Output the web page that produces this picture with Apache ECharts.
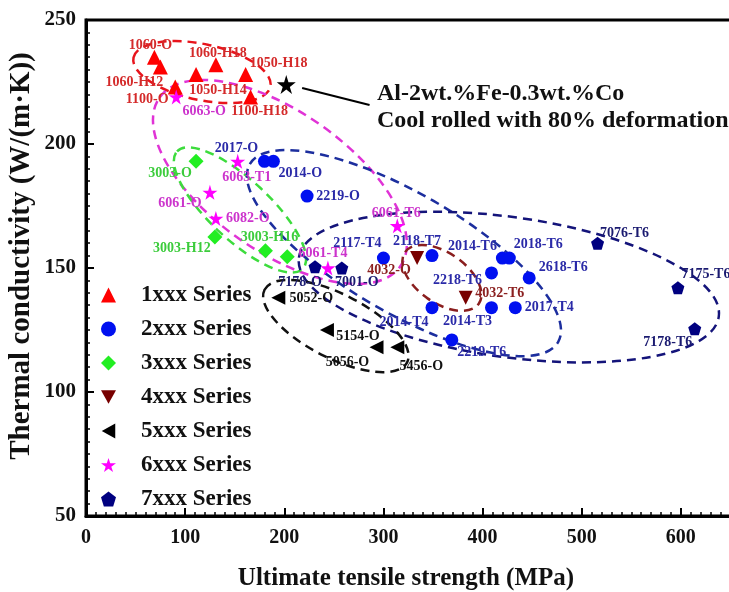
<!DOCTYPE html>
<html lang="en">
<head>
<meta charset="UTF-8">
<title>Thermal conductivity vs UTS</title>
<script src="https://cdn.jsdelivr.net/npm/echarts@6/dist/echarts.min.js"></script>
<style>
  html, body { margin: 0; padding: 0; background: #fff; }
  #chart { width: 729px; height: 592px; }
</style>
</head>
<body>
<div id="chart"></div>
<script>
// ---- data (UTS in MPa, thermal conductivity in W/(m·K)) ----
const names1 = ['1060-O', '1060-H12', '1050-H14', '1060-H18', '1050-H18', '1100-O', '1100-H18'];
const uts1 = [69, 75, 111, 131, 161, 90, 166];
const tc1 = [235, 231, 228, 232, 228, 223, 219];

const names2 = ['2017-O', '2014-O', '2219-O', '2117-T4', '2118-T7', '2014-T6', '2018-T6', '2218-T6', '2618-T6', '2014-T4', '2014-T3', '2017-T4', '2219-T6'];
const uts2 = [180, 189, 223, 300, 349, 420, 427, 409, 447, 349, 409, 433, 369];
const tc2 = [193, 193, 179, 154, 155, 154, 154, 148, 146, 134, 134, 134, 121];

const names3 = ['3003-O', '3003-H12', '3003-H16', ''];
const uts3 = [111, 130, 181, 203];
const tc3 = [193, 162.5, 157, 154.5];

const names4 = ['4032-O', '4032-T6'];
const uts4 = [334, 383];
const tc4 = [154, 138];

const names5 = ['5052-O', '5154-O', '5056-O', '5456-O'];
const uts5 = [194, 243, 293, 314];
const tc5 = [138, 125, 118, 118];

const names6 = ['6063-O', '6063-T1', '6061-O', '6082-O', '6061-T4', '6061-T6'];
const uts6 = [91, 153, 125, 131, 244, 314];
const tc6 = [219, 193, 180.5, 170, 150, 167];

const names7 = ['7178-O', '7001-O', '7076-T6', '7175-T6', '7178-T6'];
const uts7 = [231, 258, 516, 597, 614];
const tc7 = [150.5, 150, 160, 142, 125.5];

const alloyName = ['Al-2wt.%Fe-0.3wt.%Co'];
const alloyUts = [202];
const alloyTc = [224];

const seriesNames = ['1xxx Series', '2xxx Series', '3xxx Series', '4xxx Series', '5xxx Series', '6xxx Series', '7xxx Series'];
const xTicks = [0, 100, 200, 300, 400, 500, 600, 700];
const yTicks = [50, 100, 150, 200, 250];

// label offsets (px) for each point label
const labelOffsets = {
  '1060-O': [-4, -12], '1060-H12': [-26, 15], '1050-H14': [22, 16], '1060-H18': [2, -11],
  '1050-H18': [33, -11], '1100-O': [-28, 12], '1100-H18': [9, 15],
  '2017-O': [-28, -13], '2014-O': [27, 12], '2219-O': [31, 0], '2117-T4': [-26, -15],
  '2118-T7': [-15, -14], '2014-T6': [-30, -12], '2018-T6': [29, -14], '2218-T6': [-34, 7],
  '2618-T6': [34, -11], '2014-T4': [-28, 15], '2014-T3': [-24, 14], '2017-T4': [34, 0],
  '2219-T6': [30, 12],
  '3003-O': [-26, 12], '3003-H12': [-33, 11], '3003-H16': [4, -13],
  '4032-O': [-28, 12], '4032-T6': [34, -4],
  '5052-O': [33, 1], '5154-O': [31, 6], '5056-O': [-29, 15], '5456-O': [24, 19],
  '6063-O': [28, 15], '6063-T1': [9, 16], '6061-O': [-30, 11], '6082-O': [32, 0],
  '6061-T4': [-5, -15], '6061-T6': [-1, -12],
  '7178-O': [-15, 16], '7001-O': [15, 14], '7076-T6': [27, -10], '7175-T6': [28, -13],
  '7178-T6': [-27, 14]
};

const serif = "'Liberation Serif', 'Times New Roman', serif";
const starPath = 'path://M50,0 L61,35 L98,35 L68,57 L79,91 L50,70 L21,91 L32,57 L2,35 L39,35 Z';
const pentPath = 'path://M50,0 L98,36 L80,95 L20,95 L2,36 Z';
const downPath = 'path://M0,0 L100,0 L50,90 Z';
const leftPath = 'path://M90,0 L90,100 L0,50 Z';

function makeSeries(name, names, xs, ys, symbol, size, color, labelColor) {
  return {
    name: name,
    type: 'scatter',
    symbol: symbol,
    symbolSize: size,
    itemStyle: { color: color, opacity: 1 },
    label: {
      show: true,
      position: 'inside',
      formatter: '{b}',
      color: labelColor,
      fontSize: 14,
      fontWeight: 'bold',
      fontFamily: serif
    },
    z: 3,
    data: names.map(function (n, i) {
      return {
        name: n,
        value: [xs[i], ys[i]],
        label: { show: n !== '', offset: labelOffsets[n] || [0, 0] }
      };
    })
  };
}

const chart = echarts.init(document.getElementById('chart'));

const series = [
  makeSeries(seriesNames[0], names1, uts1, tc1, 'triangle', 15, '#ff0000', '#d42a2a'),
  makeSeries(seriesNames[1], names2, uts2, tc2, 'circle', 13, '#0010f0', '#2a2aa8'),
  makeSeries(seriesNames[2], names3, uts3, tc3, 'diamond', 15, '#22ee22', '#3ccc3c'),
  makeSeries(seriesNames[3], names4, uts4, tc4, downPath, 14, '#780000', '#8b2020'),
  makeSeries(seriesNames[4], names5, uts5, tc5, leftPath, 14, '#000000', '#111111'),
  makeSeries(seriesNames[5], names6, uts6, tc6, starPath, 15, '#ff00ff', '#cc33cc'),
  makeSeries(seriesNames[6], names7, uts7, tc7, pentPath, 13, '#000080', '#1a1a70'),
  {
    name: alloyName[0],
    type: 'scatter',
    symbol: starPath,
    symbolSize: 19,
    itemStyle: { color: '#000', opacity: 1 },
    z: 4,
    data: alloyName.map(function (n, i) { return { name: n, value: [alloyUts[i], alloyTc[i]] }; }),
    markLine: {
      silent: true,
      symbol: ['none', 'arrow'],
      symbolSize: [0, 11],
      lineStyle: { color: '#000', width: 2, type: 'solid' },
      label: { show: false },
      data: [[{ coord: [286, 215.7] }, { coord: [218, 222.6] }]]
    }
  }
];

chart.setOption({
  animation: false,
  backgroundColor: '#fff',
  grid: {
    left: 86, top: 20, width: 694, height: 496,
    containLabel: false, outerBoundsMode: 'none',
    show: true, borderColor: '#000', borderWidth: 3
  },
  legend: {
    data: seriesNames,
    orient: 'vertical',
    left: 96, top: 278,
    itemWidth: 15, itemHeight: 15, itemGap: 10,
    textStyle: { fontFamily: serif, fontWeight: 'bold', fontSize: 23, color: '#111', lineHeight: 24, padding: [0, 0, 0, 20] }
  },
  xAxis: {
    type: 'value', min: xTicks[0], max: xTicks[xTicks.length - 1], interval: 100,
    name: 'Ultimate tensile strength (MPa)', nameLocation: 'middle', nameGap: 50,
    nameTextStyle: { fontFamily: serif, fontWeight: 'bold', fontSize: 25, color: '#111', padding: [0, 54, 0, 0] },
    axisLine: { lineStyle: { color: '#000', width: 3 } },
    axisTick: { inside: true, length: 8, lineStyle: { width: 2, color: '#000' } },
    minorTick: { show: true, splitNumber: 10, length: 4, lineStyle: { width: 1.5, color: '#000' } },
    splitLine: { show: false },
    axisLabel: { margin: 12, fontFamily: serif, fontWeight: 'bold', fontSize: 20, color: '#111' }
  },
  yAxis: {
    type: 'value', min: yTicks[0], max: yTicks[yTicks.length - 1], interval: 50,
    name: 'Thermal conductivity (W/(m\u00B7K))', nameLocation: 'middle', nameGap: 50, nameRotate: 90,
    nameMoveOverlap: false,
    nameTextStyle: { fontFamily: serif, fontWeight: 'bold', fontSize: 29, color: '#111', padding: [0, 0, 0, 24] },
    axisLine: { lineStyle: { color: '#000', width: 3 } },
    axisTick: { inside: true, length: 8, lineStyle: { width: 2, color: '#000' } },
    minorTick: { show: true, splitNumber: 10, length: 4, lineStyle: { width: 1.5, color: '#000' } },
    splitLine: { show: false },
    axisLabel: { margin: 10, fontFamily: serif, fontWeight: 'bold', fontSize: 21, color: '#111' }
  },
  series: series
});

// dashed grouping ellipses: centre in data units, radii in px, tilt in degrees (clockwise)
const ellipses = [
  { c: [117, 229], rx: 70, ry: 28, deg: 12, color: '#e8141c' },
  { c: [195.6, 184.7], rx: 147, ry: 70, deg: 35, color: '#e033d6' },
  { c: [155.3, 173.4], rx: 86, ry: 30, deg: 43, color: '#3ddc3d' },
  { c: [320.7, 156], rx: 178, ry: 60, deg: 30, color: '#1c2e9e' },
  { c: [426.5, 142.3], rx: 212, ry: 70, deg: 8, color: '#14147a' },
  { c: [359, 146], rx: 45, ry: 25, deg: 35, color: '#8a1e1e' },
  { c: [252, 126.6], rx: 80, ry: 32, deg: 27, color: '#111111' }
];

const graphics = ellipses.map(function (e) {
  const p = chart.convertToPixel({ gridIndex: 0 }, e.c);
  return {
    type: 'ellipse',
    x: p[0], y: p[1],
    rotation: -e.deg * Math.PI / 180,
    shape: { cx: 0, cy: 0, rx: e.rx, ry: e.ry },
    style: { fill: 'none', stroke: e.color, lineWidth: 2.5, lineDash: [9, 6] },
    silent: true,
    z: 1
  };
});

graphics.push({
  type: 'text',
  left: 377, top: 80,
  style: {
    text: 'Al-2wt.%Fe-0.3wt.%Co\nCool rolled with 80% deformation',
    font: 'bold 24px ' + serif,
    fill: '#111',
    lineHeight: 27
  },
  z: 5
});

chart.setOption({ graphic: graphics });
</script>
</body>
</html>
